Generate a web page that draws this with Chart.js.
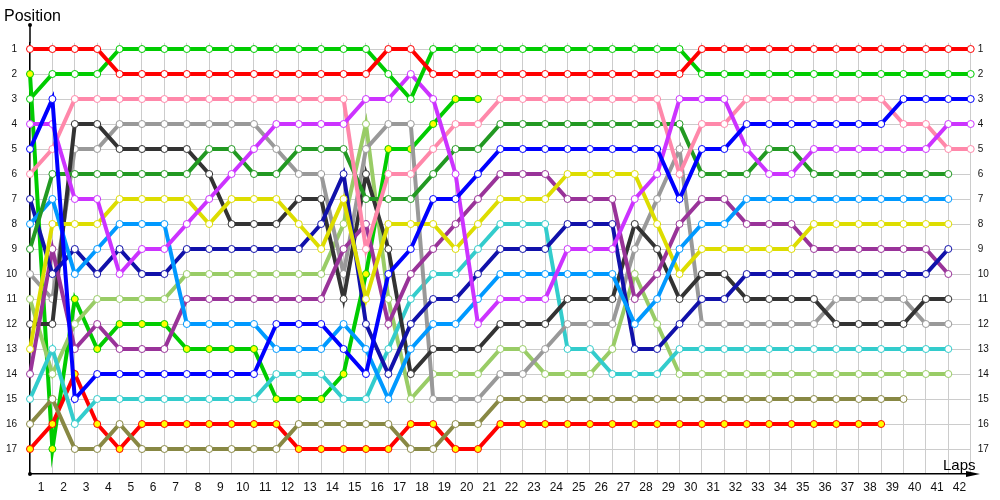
<!DOCTYPE html>
<html>
<head>
<meta charset="utf-8">
<script src="https://cdn.jsdelivr.net/npm/chart.js@4"></script>
<style>
  body { margin: 0; background: #fff; }
  #wrap { width: 1000px; height: 500px; position: relative; }
</style>
</head>
<body>
<div id="wrap"><canvas id="canvas"></canvas></div>
<script>
// lap numbers (0 = grid)
var laps = [0,1,2,3,4,5,6,7,8,9,10,11,12,13,14,15,16,17,18,19,20,21,22,23,24,25,26,27,28,29,30,31,32,33,34,35,36,37,38,39,40,41,42];
var xTickLabels = ['1','2','3','4','5','6','7','8','9','10','11','12','13','14','15','16','17','18','19','20','21','22','23','24','25','26','27','28','29','30','31','32','33','34','35','36','37','38','39','40','41','42'];
var positions = [1,2,3,4,5,6,7,8,9,10,11,12,13,14,15,16,17];

// position of each car at the end of every lap
var red       = [1,1,1,1,2,2,2,2,2,2,2,2,2,2,2,2,1,1,2,2,2,2,2,2,2,2,2,2,2,2,1,1,1,1,1,1,1,1,1,1,1,1,1];
var green     = [3,2,2,2,1,1,1,1,1,1,1,1,1,1,1,1,2,3,1,1,1,1,1,1,1,1,1,1,1,1,2,2,2,2,2,2,2,2,2,2,2,2,2];
var blue      = [5,3,15,14,14,14,14,14,14,14,14,12,12,12,13,14,10,9,7,7,6,5,5,5,5,5,5,5,5,7,5,5,4,4,4,4,4,4,4,3,3,3,3];
var violet    = [4,4,7,7,10,9,9,8,7,6,5,4,4,4,4,3,3,2,3,6,12,11,11,11,9,9,9,7,6,3,3,3,5,6,6,5,5,5,5,5,5,4,4];
var pink      = [6,5,3,3,3,3,3,3,3,3,3,3,3,3,3,9,6,6,5,4,4,3,3,3,3,3,3,3,3,6,4,4,3,3,3,3,3,3,3,4,4,5,5];
var darkGreen = [9,6,6,6,6,6,6,6,5,5,6,6,5,5,5,7,7,7,6,5,5,4,4,4,4,4,4,4,4,4,6,6,6,5,5,6,6,6,6,6,6,6];
var skyBlue   = [8,7,10,9,8,8,8,12,12,12,12,13,13,13,12,13,15,13,12,12,11,10,10,10,10,10,10,12,11,9,8,8,7,7,7,7,7,7,7,7,7,7];
var yellow    = [13,8,8,8,7,7,7,7,8,7,7,7,8,9,7,11,8,8,8,9,8,7,7,7,6,6,6,6,8,10,9,9,9,9,9,8,8,8,8,8,8,8];
var navy      = [7,10,9,10,9,10,10,9,9,9,9,9,9,8,6,12,14,12,11,11,10,9,9,9,8,8,8,13,13,12,11,11,10,10,10,10,10,10,10,10,10,9];
var purple    = [14,9,13,12,13,13,13,11,11,11,11,11,11,11,9,8,12,10,9,8,7,6,6,6,7,7,7,11,10,8,7,7,8,8,8,9,9,9,9,9,9,10];
var darkGray  = [12,12,4,4,5,5,5,5,6,8,8,8,7,7,11,6,9,14,13,13,13,12,12,12,11,11,11,8,9,11,10,10,11,11,11,11,12,12,12,12,11,11];
var gray      = [10,11,5,5,4,4,4,4,4,4,4,5,6,6,10,5,4,4,15,15,15,14,14,13,12,12,12,9,7,5,12,12,12,12,12,12,11,11,11,11,12,12];
var cyan      = [15,13,16,15,15,15,15,15,15,15,15,14,14,14,15,15,13,11,10,10,9,8,8,8,13,13,14,14,14,13,13,13,13,13,13,13,13,13,13,13,13,13];
var lime      = [11,14,12,11,11,11,11,10,10,10,10,10,10,10,8,4,11,15,14,14,14,13,13,14,14,14,13,10,12,14,14,14,14,14,14,14,14,14,14,14,14,14];
var olive     = [16,15,17,17,16,17,17,17,17,17,17,17,16,16,16,16,16,17,17,16,16,15,15,15,15,15,15,15,15,15,15,15,15,15,15,15,15,15,15,15];
var redB      = [17,16,14,16,17,16,16,16,16,16,16,16,17,17,17,17,17,16,16,17,17,16,16,16,16,16,16,16,16,16,16,16,16,16,16,16,16,16,16];
var greenB    = [2,17,11,13,12,12,12,13,13,13,13,15,15,15,14,10,5,5,4,3,3];

function series(name, pos, color, fill) {
    return {
        label: name,
        data: pos.map(function(p, i) { return { x: laps[i], y: p }; }),
        borderColor: color,
        borderWidth: 4,
        pointRadius: 3.5,
        pointHoverRadius: 3.5,
        pointBorderWidth: 1,
        pointBorderColor: color,
        pointBackgroundColor: fill || '#ffffff',
        tension: 0,
        clip: false
    };
}

var datasets = [
    series('red', red, '#ff0000'),
    series('green', green, '#00cc00'),
    series('blue', blue, '#0000ff'),
    series('violet', violet, '#cc33ff'),
    series('pink', pink, '#ff88aa'),
    series('darkGreen', darkGreen, '#229922'),
    series('skyBlue', skyBlue, '#0099ff'),
    series('yellow', yellow, '#dddd00'),
    series('navy', navy, '#1111aa'),
    series('purple', purple, '#993399'),
    series('darkGray', darkGray, '#333333'),
    series('gray', gray, '#999999'),
    series('cyan', cyan, '#33cccc'),
    series('lime', lime, '#99cc66'),
    series('olive', olive, '#888844'),
    series('redB', redB, '#ff0000', '#ffff00'),
    series('greenB', greenB, '#00cc00', '#ffff00')
];

var FONT = '"Liberation Sans", Arial, sans-serif';

var decor = {
    id: 'decor',
    afterDraw: function(chart) {
        var ctx = chart.ctx, a = chart.chartArea;
        ctx.save();
        ctx.strokeStyle = '#000';
        ctx.fillStyle = '#000';
        ctx.lineWidth = 1.5;
        ctx.beginPath();
        ctx.moveTo(a.left, a.top);
        ctx.lineTo(a.left, 25);
        ctx.moveTo(a.right, a.bottom);
        ctx.lineTo(972, a.bottom);
        ctx.stroke();
        ctx.beginPath();
        ctx.moveTo(980, a.bottom);
        ctx.lineTo(966, a.bottom - 3);
        ctx.lineTo(966, a.bottom + 3);
        ctx.closePath();
        ctx.fill();
        ctx.beginPath();
        ctx.arc(a.left, 25, 2, 0, Math.PI * 2);
        ctx.arc(a.left, a.bottom, 2, 0, Math.PI * 2);
        ctx.fill();
        ctx.font = '16px ' + FONT;
        ctx.textBaseline = 'alphabetic';
        ctx.textAlign = 'left';
        ctx.fillText('Position', 4, 21);
        ctx.font = '15px ' + FONT;
        ctx.fillText('Laps', 943, 470);
        ctx.restore();
    }
};

var ctx = document.getElementById('canvas').getContext('2d');
var config = {
    type: 'line',
    data: { datasets: datasets },
    options: {
        responsive: true,
        maintainAspectRatio: false,
        animation: false,
        layout: { padding: { top: 42.75, left: 0, right: 0, bottom: 0 } },
        plugins: { legend: { display: false }, tooltip: { enabled: false } },
        scales: {
            x: {
                type: 'linear',
                min: 0,
                max: 42,
                afterBuildTicks: function(s) {
                    s.ticks = xTickLabels.map(function(t, i) { return { value: i + 0.5 }; });
                },
                afterFit: function(s) { s.height = 26; },
                ticks: {
                    autoSkip: false,
                    maxRotation: 0,
                    padding: 6,
                    color: '#111',
                    font: { family: FONT, size: 12 },
                    callback: function(v, i) { return xTickLabels[i]; }
                },
                grid: { offset: true, color: '#cccccc', drawTicks: false },
                border: { color: '#000', width: 1.5 }
            },
            y: {
                type: 'linear',
                position: 'left',
                reverse: true,
                min: 0.75,
                max: 18,
                afterBuildTicks: function(s) {
                    s.ticks = positions.map(function(p) { return { value: p }; });
                },
                afterFit: function(s) { s.width = 30; },
                ticks: { padding: 13, color: '#111', font: { family: FONT, size: 10 } },
                grid: { color: '#cccccc', drawTicks: false },
                border: { color: '#000', width: 1.5 }
            },
            y2: {
                type: 'linear',
                position: 'right',
                reverse: true,
                min: 0.75,
                max: 18,
                afterBuildTicks: function(s) {
                    s.ticks = positions.map(function(p) { return { value: p }; });
                },
                afterFit: function(s) { s.width = 29.3; },
                ticks: { padding: 7, color: '#111', font: { family: FONT, size: 10 } },
                grid: { display: false, drawTicks: false },
                border: { display: false }
            }
        }
    },
    plugins: [decor]
};

var chart = new Chart(ctx, config);
</script>
</body>
</html>
